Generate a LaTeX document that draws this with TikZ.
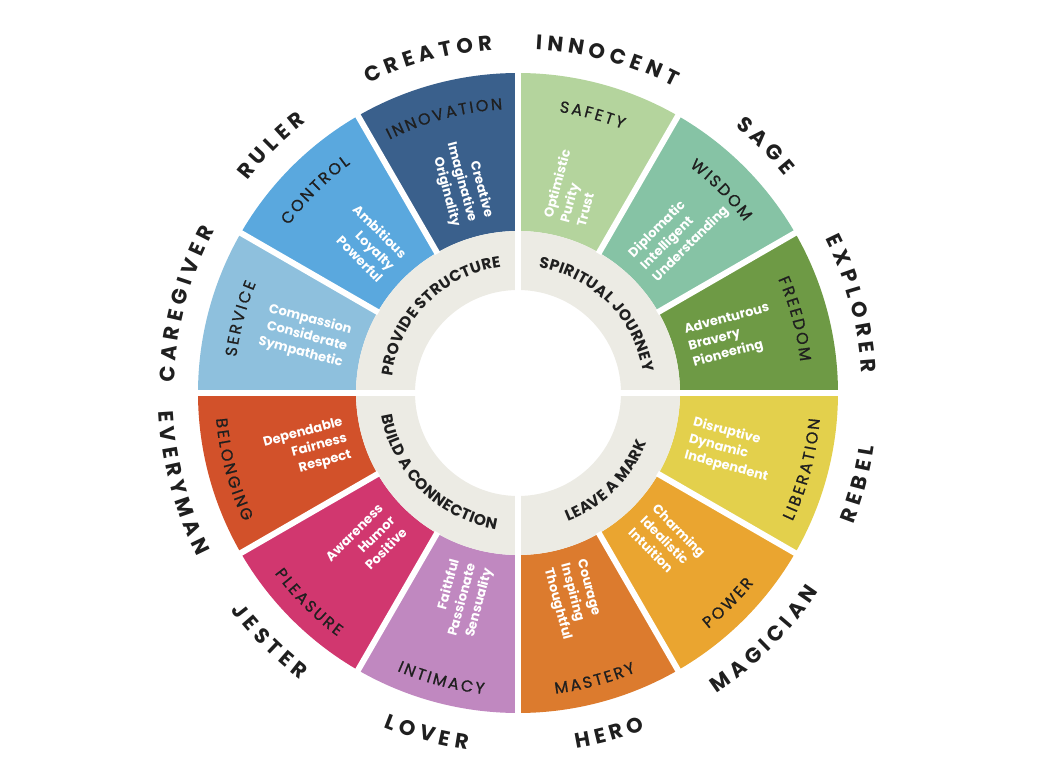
\documentclass[tikz,border=0pt]{standalone}
\usepackage{fontspec}
\setmainfont{Poppins}
\newfontfamily\themefam{Poppins}[FakeBold=0.8]
\usetikzlibrary{positioning}

\definecolor{explorerc}{HTML}{6E9A45}
\definecolor{sagec}{HTML}{86C3A5}
\definecolor{innocentc}{HTML}{B4D49D}
\definecolor{creatorc}{HTML}{3A608C}
\definecolor{rulerc}{HTML}{5AA8DE}
\definecolor{caregiverc}{HTML}{8EC0DD}
\definecolor{everymanc}{HTML}{D2512A}
\definecolor{jesterc}{HTML}{D1376F}
\definecolor{loverc}{HTML}{C088C0}
\definecolor{heroc}{HTML}{DC7B2E}
\definecolor{magicianc}{HTML}{EAA530}
\definecolor{rebelc}{HTML}{E3D04C}
\definecolor{ringc}{HTML}{ECEBE4}
\definecolor{ink}{HTML}{1F1F1F}

\newcommand\archfont{\bfseries\fontsize{21}{21}\selectfont}
\newcommand\themefont{\themefam\fontsize{16}{16}\selectfont}
\newcommand\ringfont{\bfseries\fontsize{15.5}{15.5}\selectfont}
\newcommand\traitfont{\bfseries\fontsize{13}{17}\selectfont}

% letters set one by one along a circle
\newdimen\chw
\newcounter{chr}
\newcommand\arcfont{}
\newcommand\getchw[1]{%
  \pgfinterruptpicture\settowidth\chw{\arcfont #1}\global\chw=\chw\endpgfinterruptpicture}
\newcommand\measurech[1]{%
  \getchw{#1}%
  \pgfmathsetmacro\arctot{\arctot+\the\chw+\arctrack}\xdef\arctot{\arctot}}
\newcommand\placech[1]{%
  \getchw{#1}%
  \pgfmathsetmacro\arcang{\arcmid-(\arcdir)*(\arcpos+\the\chw/2)/\arcrad*180/pi}%
  \stepcounter{chr}%
  \node[letter, rotate=\arcang-(\arcdir)*90] (chr\thechr) at (\arcang:\arcrad pt) {\arcfont #1};%
  \pgfmathsetmacro\arcpos{\arcpos+\the\chw+\arctrack}\xdef\arcpos{\arcpos}}
\ExplSyntaxOn
\cs_new_protected:Npn \forchars #1#2 { \exp_args:Nx \str_map_inline:nn {#2} { #1{##1} } }
\ExplSyntaxOff
% font, radius, mid angle, direction (1 clockwise, -1 counterclockwise), tracking, text
\newcommand\arclabel[6]{%
  \def\arcfont{#1}\def\arcrad{#2}\def\arcmid{#3}\def\arcdir{#4}\def\arctrack{#5}%
  \xdef\arctot{0}\forchars\measurech{#6}%
  \pgfmathsetmacro\arcpos{-(\arctot-\arctrack)/2}\xdef\arcpos{\arcpos}%
  \forchars\placech{#6}}

\tikzset{
  letter/.style={anchor=base, inner sep=0pt, text=ink},
  traits/.style={text=white, font=\traitfont, inner sep=0pt},
  gap/.style={white, line width=6pt}
}

\begin{document}
\begin{tikzpicture}
\useasboundingbox (-518pt,-386pt) rectangle (529pt,393pt);

% segments
\foreach \a/\col/\arch/\theme/\traitlist in {
    0/explorerc/EXPLORER/FREEDOM/{Adventurous\\Bravery\\Pioneering},
    30/sagec/SAGE/WISDOM/{Diplomatic\\Intelligent\\Understanding},
    60/innocentc/INNOCENT/SAFETY/{Optimistic\\Purity\\Trust},
    90/creatorc/CREATOR/INNOVATION/{Creative\\Imaginative\\Originality},
    120/rulerc/RULER/CONTROL/{Ambitious\\Loyalty\\Powerful},
    150/caregiverc/CAREGIVER/SERVICE/{Compassion\\Considerate\\Sympathetic},
    180/everymanc/EVERYMAN/BELONGING/{Dependable\\Fairness\\Respect},
    210/jesterc/JESTER/PLEASURE/{Awareness\\Humor\\Positive},
    240/loverc/LOVER/INTIMACY/{Faithful\\Passionate\\Sensuality},
    270/heroc/HERO/MASTERY/{Courage\\Inspiring\\Thoughtful},
    300/magicianc/MAGICIAN/POWER/{Charming\\Idealistic\\Intuition},
    330/rebelc/REBEL/LIBERATION/{Disruptive\\Dynamic\\Independent}} {
  \pgfmathsetmacro\m{\a+15}
  \pgfmathtruncatemacro\dir{\m<180 ? 1 : -1}
  \pgfmathtruncatemacro\side{(\m>90)&&(\m<270) ? 1 : 0}
  \pgfmathsetmacro\rarch{\dir==1 ? 344 : 360}
  \pgfmathsetmacro\rtheme{\dir==1 ? 284 : 303}
  \fill[\col] (\a:162pt) arc[start angle=\a, end angle=\a+30, radius=162pt]
    -- (\a+30:320pt) arc[start angle=\a+30, end angle=\a, radius=320pt] -- cycle;
  \ifnum\side=1
    \node[traits, rotate=\m-180, anchor=east, align=right] (\arch-traits) at (\m:177pt) {\traitlist};
  \else
    \node[traits, rotate=\m, anchor=west, align=left] (\arch-traits) at (\m:177pt) {\traitlist};
  \fi
  \arclabel{\archfont}{\rarch}{\m}{\dir}{5}{\arch}
  \arclabel{\themefont}{\rtheme}{\m}{\dir}{2.3}{\theme}
}

% inner ring
\fill[ringc, even odd rule] (0,0) circle[radius=162pt] (0,0) circle[radius=103pt];
\foreach \a/\dir/\goal in {45/1/SPIRITUAL JOURNEY, 135/1/PROVIDE STRUCTURE,
    225/-1/BUILD A CONNECTION, 315/-1/LEAVE A MARK} {
  \pgfmathsetmacro\rring{\dir==1 ? 127 : 138}
  \arclabel{\ringfont}{\rring}{\a}{\dir}{0.3}{\goal}
}

% white gaps
\foreach \a in {0,30,...,330}
  \draw[gap] (\a:161pt) -- (\a:325pt);
\foreach \a in {0,90,180,270}
  \draw[gap] (\a:98pt) -- (\a:166pt);
\end{tikzpicture}
\end{document}
